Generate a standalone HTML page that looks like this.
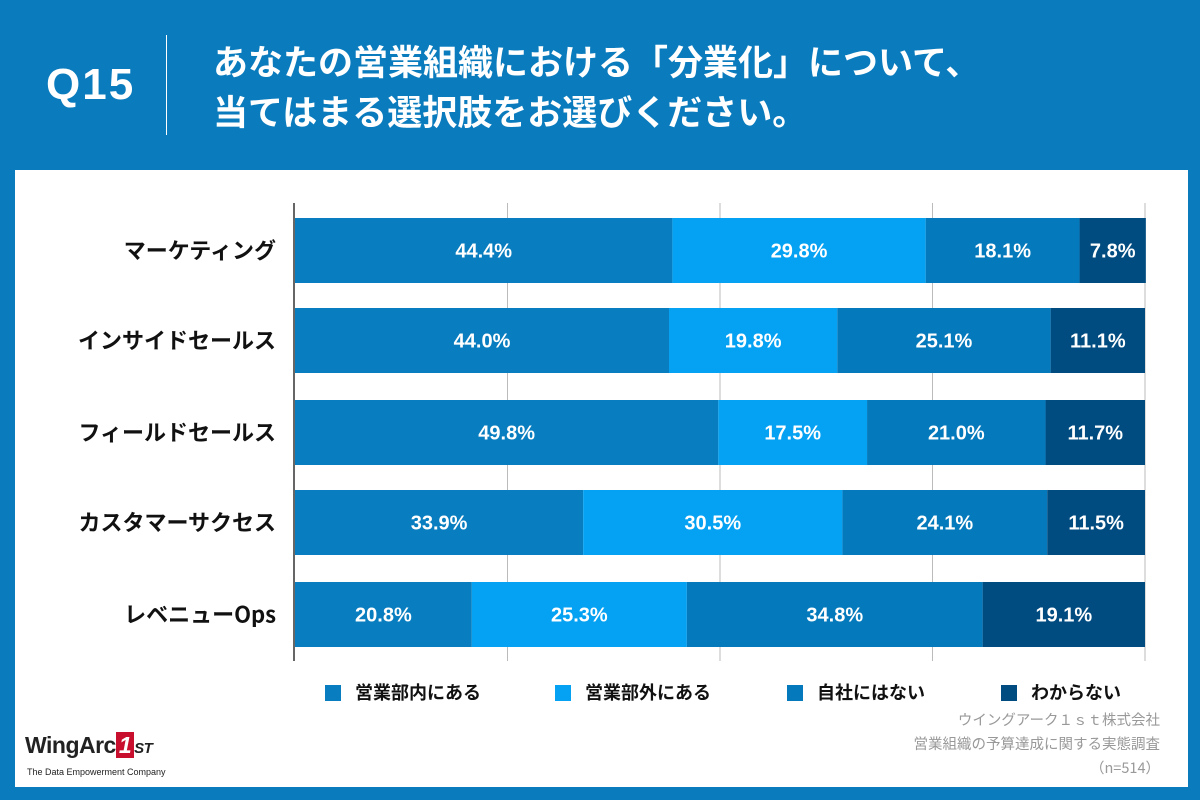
<!DOCTYPE html>
<html><head><meta charset="utf-8"><style>
body{margin:0;width:1200px;height:800px;background:#0a7bbd;font-family:"Liberation Sans","Noto Sans CJK JP",sans-serif;overflow:hidden;position:relative}
.abs{position:absolute}
</style></head><body>
<div class="abs" style="left:46px;top:60px;font-size:44px;font-weight:bold;color:#fff;letter-spacing:2px">Q15</div>
<div class="abs" style="left:166px;top:35px;width:1px;height:100px;background:#fff"></div>
<div class="abs" style="left:213px;top:36px;font-size:35px;font-weight:bold;color:#fff;line-height:50px;font-family:'Noto Sans CJK JP',sans-serif">あなたの営業組織における「分業化」について、<br>当てはまる選択肢をお選びください。</div>
<div class="abs" style="left:15px;top:170px;width:1173px;height:617px;background:#fff"></div>
<svg class="abs" style="left:0;top:0" width="1200" height="800">
<g id="grid"></g><g id="bars"></g><g id="labels"></g>
<line x1="294" y1="203" x2="294" y2="661" stroke="#000" stroke-width="1.2"/>
</svg>
<div class="abs" style="left:325px;top:679px;width:830px;height:24px;font-size:18px;font-weight:bold;color:#111;font-family:'Noto Sans CJK JP',sans-serif" id="legend"></div>
<div class="abs" style="right:40px;top:708px;text-align:right;font-size:14.5px;color:#999;line-height:24px;font-family:'Noto Sans CJK JP',sans-serif">ウイングアーク１ｓｔ株式会社<br>営業組織の予算達成に関する実態調査<br>（n=514）</div>
<div class="abs" style="left:25px;top:732px;font-size:23px;font-weight:bold;color:#222;letter-spacing:-0.5px">WingArc<span style="color:#fff;background:#c8102e;padding:0 3px;font-style:italic">1</span><span style="font-size:15px;font-style:italic">ST</span></div>
<div class="abs" style="left:27px;top:767px;font-size:9px;color:#222">The Data Empowerment Company</div>
<script>
const categories=["マーケティング","インサイドセールス","フィールドセールス","カスタマーサクセス","レベニューOps"];
const seriesNames=["営業部内にある","営業部外にある","自社にはない","わからない"];
const s1=[44.4,44.0,49.8,33.9,20.8];
const s2=[29.8,19.8,17.5,30.5,25.3];
const s3=[18.1,25.1,21.0,24.1,34.8];
const s4=[7.8,11.1,11.7,11.5,19.1];
const ticks=[0,25,50,75,100];
const colors=["#087dbf","#05a2f3","#0479bb","#004b80"];
const series=[s1,s2,s3,s4];
const X0=295,X1=1145,rowTop=[218,308,400,490,582],BH=65;
const x=v=>X0+(X1-X0)*v/100;
const ns="http://www.w3.org/2000/svg";
const grid=document.getElementById('grid'),bars=document.getElementById('bars'),labs=document.getElementById('labels');
ticks.forEach(t=>{if(t===0)return;const l=document.createElementNS(ns,'line');


l.setAttribute('x1',x(t));l.setAttribute('x2',x(t));l.setAttribute('y1',203);l.setAttribute('y2',661);l.setAttribute('stroke','#bbb');grid.appendChild(l);});
categories.forEach((c,i)=>{
const y=rowTop[i];
const t=document.createElementNS(ns,'text');


t.setAttribute('x',276);t.setAttribute('y',y+BH/2+8);t.setAttribute('text-anchor','end');t.setAttribute('font-size','22');t.setAttribute('font-weight','bold');t.setAttribute('fill','#111');t.setAttribute('font-family','Noto Sans CJK JP, sans-serif');t.textContent=c;labs.appendChild(t);
let acc=0;
series.forEach((s,k)=>{const v=s[i];
const r=document.createElementNS(ns,'rect');


r.setAttribute('x',x(acc));r.setAttribute('y',y);r.setAttribute('width',x(acc+v)-x(acc));r.setAttribute('height',BH);r.setAttribute('fill',colors[k]);bars.appendChild(r);
const tv=document.createElementNS(ns,'text');


tv.setAttribute('x',(x(acc)+x(acc+v))/2);tv.setAttribute('y',y+BH/2+7);tv.setAttribute('text-anchor','middle');tv.setAttribute('font-size','20');tv.setAttribute('font-weight','bold');tv.setAttribute('fill','#fff');tv.textContent=v.toFixed(1)+'%';labs.appendChild(tv);
acc+=v;});
});
const lg=document.getElementById('legend');
const lx=[0,230,462,676];
seriesNames.forEach((n,k)=>{const d=document.createElement('div');


d.style.cssText='position:absolute;left:'+lx[k]+'px;top:0;white-space:nowrap';
d.innerHTML='<span style="display:inline-block;width:16px;height:16px;background:'+colors[k]+';vertical-align:-2px;margin-right:14px"></span>'+n;lg.appendChild(d);});
</script>
</body></html>
